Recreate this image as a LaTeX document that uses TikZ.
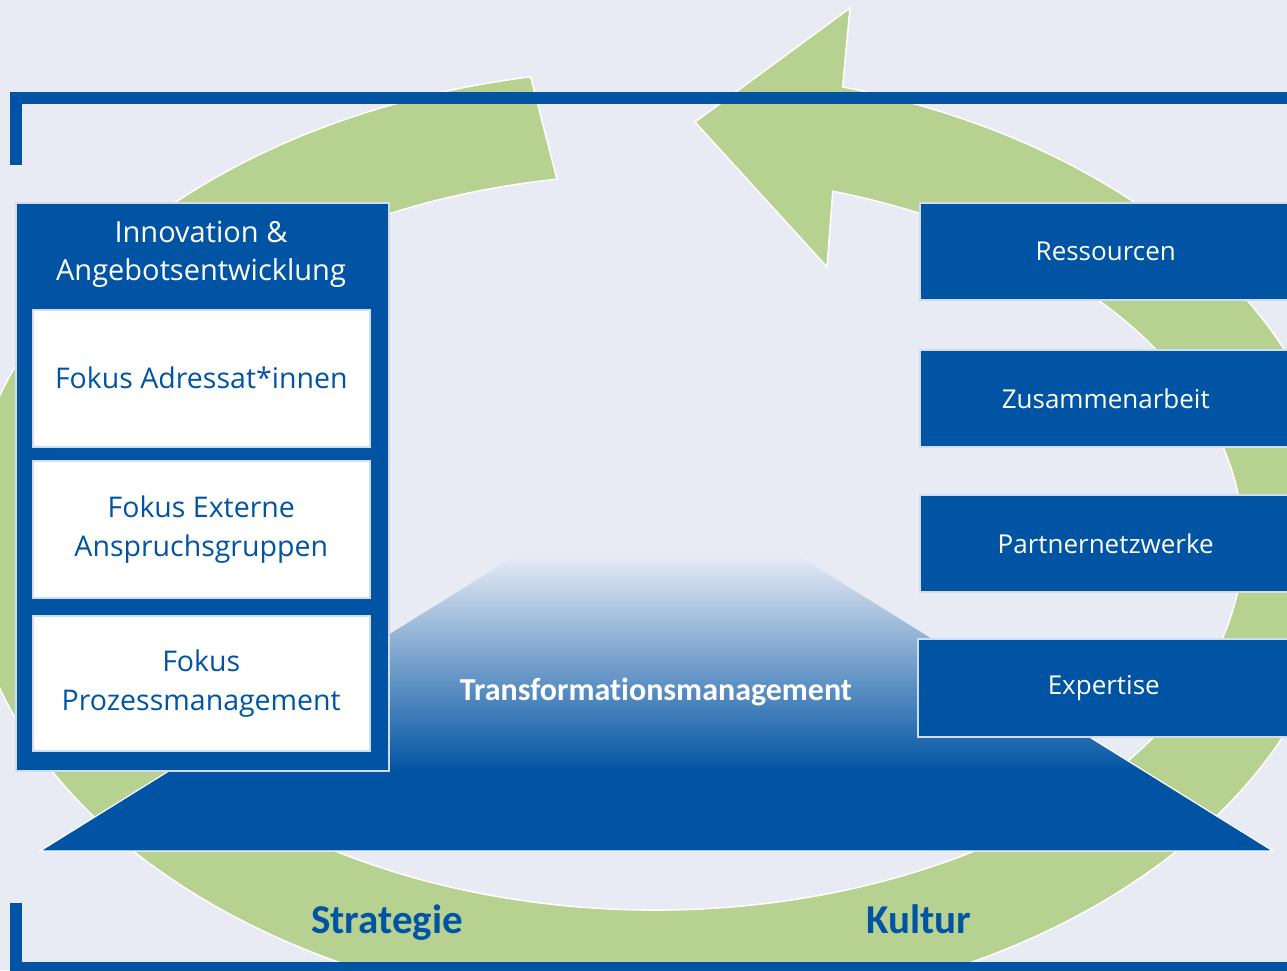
\documentclass[tikz,border=0pt]{standalone}
\usepackage{fontspec}
\setmainfont{Open Sans}
\newfontfamily\carlito[Ligatures=NoCommon]{Carlito}
\definecolor{bgc}{HTML}{E8EBF4}
\definecolor{bluec}{HTML}{0054A3}
\definecolor{greenc}{HTML}{B7D191}
\definecolor{edgec}{HTML}{D3DCEC}
\begin{document}
\begin{tikzpicture}[x=1pt,y=-1pt,
  rbox/.style={draw=edgec, line width=1.5pt, fill=bluec, text=white, inner sep=0pt,
    minimum width=372pt, minimum height=97pt, anchor=north west,
    font=\fontsize{26}{36}\selectfont},
  wbox/.style={draw=edgec, line width=1.5pt, fill=white, text=bluec, inner sep=0pt,
    minimum width=337pt, anchor=north west, align=center,
    font=\fontsize{28.5}{39}\selectfont},
  bigtext/.style={font=\carlito\bfseries\fontsize{41}{48}\selectfont, text=bluec, inner sep=0pt, anchor=base},
]
\useasboundingbox (0,0) rectangle (1287,970);
\clip (0,0) rectangle (1287,970);
\fill[bgc] (0,0) rectangle (1287,970);

% green circular arrow
\filldraw[fill=greenc, draw=white, line width=1.5pt]
  ([shift={(655,542)}]259.6:689 and 473)
  arc[start angle=259.6, end angle=-74.2, x radius=689, y radius=473]
  -- (850,8) -- (695,122) -- (827,267)
  -- ([shift={(655,542)}]-72.4:588 and 368)
  arc[start angle=-72.4, end angle=260.4, x radius=588, y radius=368]
  -- cycle;

% blue frame
\draw[bluec, line width=12pt] (16,165) -- (16,98) -- (1300,98);
\draw[bluec, line width=12pt] (16,903) -- (16,968) -- (1300,968);

% trapezoid
\begin{scope}
  \clip (40,851) -- (517,555) -- (797,555) -- (1273,851) -- cycle;
  \shade[top color=bgc, bottom color=bluec] (0,555) rectangle (1287,772);
  \fill[bluec] (0,770) rectangle (1287,852);
\end{scope}
\draw[white, line width=1.2pt] (283,700) -- (40,851) -- (1273,851) -- (1030,700);
\node[font=\carlito\bfseries\fontsize{32}{38}\selectfont, text=white, inner sep=0pt, anchor=base] (trans) at (656,700) {Transformationsmanagement};

% left box
\node[draw=edgec, line width=1.5pt, fill=bluec, minimum width=373pt, minimum height=568pt, anchor=north west, inner sep=0pt] (lbox) at (15,202) {};
\node[text=white, align=center, inner sep=0pt, font=\fontsize{29}{38}\selectfont] (ltitle) at (201,254) {Innovation \&\\Angebotsentwicklung};
\node[wbox, minimum height=137pt] (w1) at (32,309) {Fokus Adressat*innen};
\node[wbox, minimum height=137pt] (w2) at (32,460) {Fokus Externe\\Anspruchsgruppen};
\node[wbox, minimum height=135pt] (w3) at (32,615) {Fokus\\Prozessmanagement};

% right boxes
\node[rbox] (r1) at (919,202) {Ressourcen};
\node[rbox] (r2) at (919,349) {Zusammenarbeit};
\node[rbox] (r3) at (919,494) {Partnernetzwerke};
\node[rbox, minimum height=98pt] (r4) at (917,638) {Expertise};

% bottom labels
\node[bigtext] (strat) at (387,933) {Strategie};
\node[bigtext] (kultur) at (919,933) {Kultur};
\end{tikzpicture}
\end{document}
